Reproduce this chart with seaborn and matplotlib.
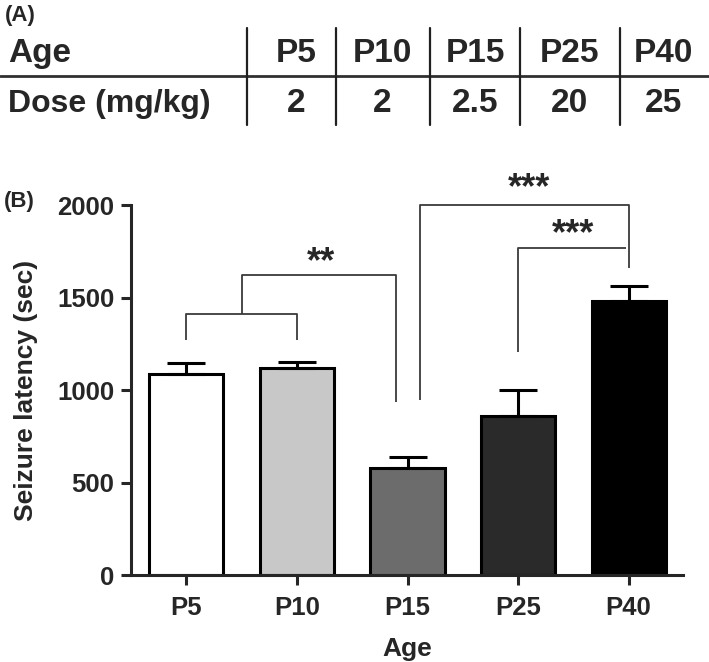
import numpy as np
import pandas as pd
import matplotlib
matplotlib.use('Agg')
import matplotlib.pyplot as plt
import seaborn as sns

# Datos de la tabla (A)
tabla_edades = ['P5', 'P10', 'P15', 'P25', 'P40']
tabla_dosis = ['2', '2', '2.5', '20', '25']

# Datos de las barras (B)
edades = ['P5', 'P10', 'P15', 'P25', 'P40']
latencia = [1086, 1119, 578, 859, 1481]
sem = [60, 32, 60, 141, 81]
colores = ['#ffffff', '#c8c8c8', '#6c6c6c', '#2a2a2a', '#000000']

# Comparaciones (x en posiciones de categoria, y en segundos)
brackets = [
    ([0, 0, 1, 1], [1270, 1411, 1411, 1270]),
    ([0.5, 0.5, 1.9, 1.9], [1411, 1622, 1622, 935]),
    ([2.11, 2.11, 4.0, 4.0], [946, 2000, 2000, 1660]),
    ([3.0, 3.0, 3.98], [1205, 1768, 1768]),
]
estrellas = [('**', 1.22, 1714), ('***', 3.1, 2113), ('***', 3.5, 1868)]

sns.set_style('ticks')
plt.rcParams['font.family'] = ['Liberation Sans', 'DejaVu Sans']
plt.rcParams['font.weight'] = 'bold'

fig = plt.figure(figsize=(7.09, 6.62), dpi=100)

# Panel A: tabla
axt = fig.add_axes([0, 0, 1, 1])
axt.set_xlim(0, 709)
axt.set_ylim(662, 0)
axt.axis('off')
axt.text(5, 15, '(A)', fontsize=16, fontweight='bold', va='center', ha='left')
axt.text(8, 62, 'Age', fontsize=24, fontweight='bold', ha='left', va='baseline')
axt.text(8, 112, 'Dose (mg/kg)', fontsize=23, fontweight='bold', ha='left', va='baseline')
centros = [296, 382, 475, 569, 663]
for c, e, d in zip(centros, tabla_edades, tabla_dosis):
    axt.text(c, 62, e, fontsize=24, fontweight='bold', ha='center', va='baseline')
    axt.text(c, 112, d, fontsize=24, fontweight='bold', ha='center', va='baseline')
axt.plot([0, 709], [76, 76], color='#303030', lw=2)
for xl in [247, 336, 430, 520, 620]:
    axt.plot([xl, xl], [28, 125], color='#202020', lw=1.6)
axt.text(4, 202, '(B)', fontsize=16, fontweight='bold', va='center', ha='left')

# Panel B: barras
ax = fig.add_axes([0.185, 0.131, 0.778, 0.559])
df = pd.DataFrame({'edad': edades, 'latencia': latencia})
sns.barplot(data=df, x='edad', y='latencia', hue='edad', palette=colores,
            edgecolor='black', linewidth=2.2, width=0.67, legend=False, ax=ax)
ax.errorbar(x=np.arange(len(edades)), y=latencia, yerr=[np.zeros(len(sem)), sem],
            fmt='none', ecolor='black', elinewidth=2.2, capsize=13.5, capthick=2.2, zorder=1)

for xs, ys in brackets:
    ax.plot(xs, ys, color='#3a3a3a', lw=1.3, clip_on=False, solid_capstyle='butt')
for txt, xs, ys in estrellas:
    ax.text(xs, ys - 25, txt, fontsize=26, fontweight='bold', ha='center', va='center')

ax.set_xlim(-0.5, 4.49)
ax.set_ylim(0, 2000)
ax.set_yticks([0, 500, 1000, 1500, 2000])
ax.set_xlabel('Age', fontsize=19, fontweight='bold', labelpad=12)
ax.set_ylabel('Seizure latency (sec)', fontsize=19, fontweight='bold', labelpad=14)
ax.tick_params(axis='both', labelsize=18.5, width=2.2, length=7, direction='out')
ax.tick_params(axis='x', pad=8)
ax.tick_params(axis='y', pad=5)
for lab in ax.get_xticklabels() + ax.get_yticklabels():
    lab.set_fontweight('bold')
sns.despine(ax=ax)
ax.spines['left'].set_linewidth(2.2)
ax.spines['bottom'].set_linewidth(2.2)
ax.patch.set_alpha(0)

plt.savefig('out.png', dpi=100)
